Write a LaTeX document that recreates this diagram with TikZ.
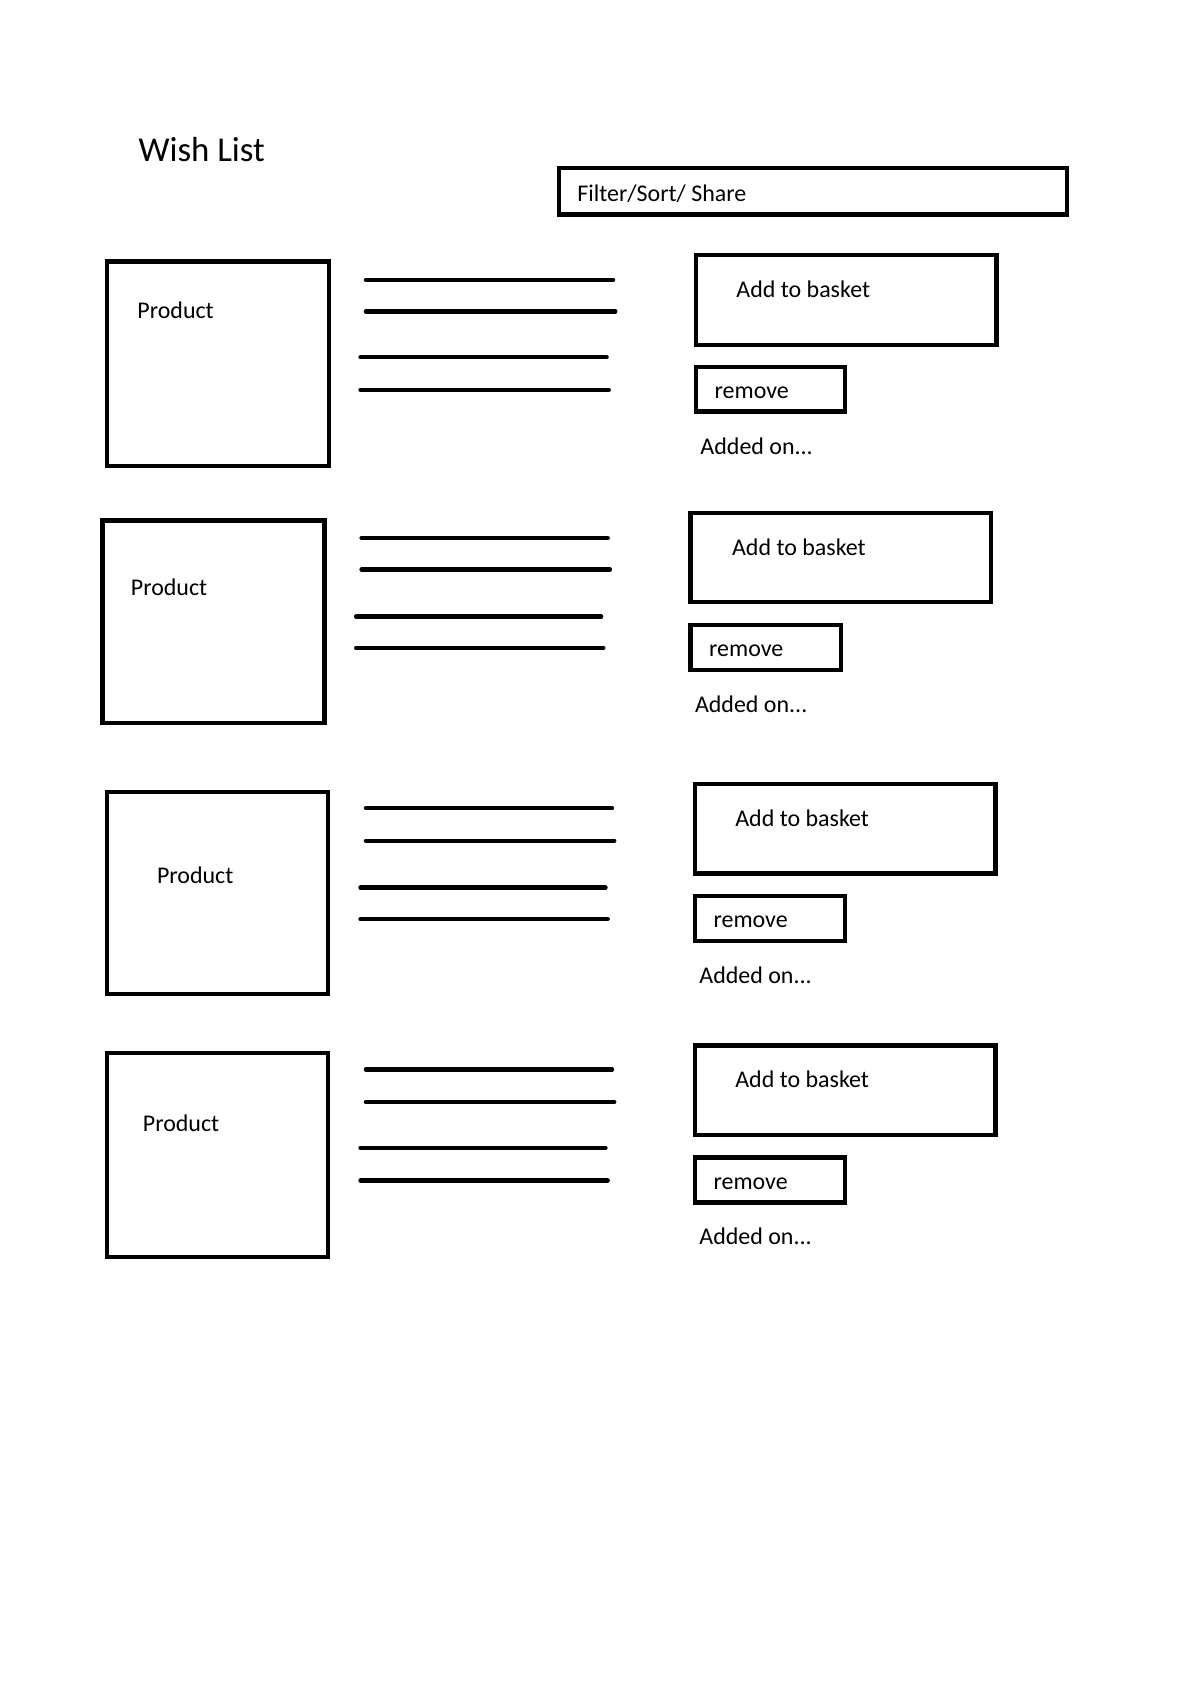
\documentclass[tikz,border=0pt]{standalone}
\usepackage{fontspec}
\setmainfont{Carlito}
\begin{document}
\begin{tikzpicture}[x=1pt,y=-1pt,
  box/.style={draw=black,line width=4pt,inner sep=0pt,outer sep=0pt},
  bar/.style={draw=black,line width=4pt,line cap=round},
  lbl/.style={anchor=base west,inner sep=0pt,font=\fontsize{22}{26}\selectfont},
  ttl/.style={anchor=base west,inner sep=0pt,font=\fontsize{32}{38}\selectfont}]
\useasboundingbox[fill=white] (0,0) rectangle (1100,1561);
\node[ttl] (title) at (127,148) {Wish List};
\node[box,minimum width=467pt,minimum height=43pt] (filter) at (746.5,175.5) {};
\node[lbl] (filtert) at (530,185) {Filter/Sort/ Share};
% row 1
\node[box,minimum width=204pt,minimum height=188pt] (p1) at (200,334) {};
\node[lbl] (p1t) at (126,292) {Product};
\draw[bar] (336,257) -- (563,257);
\draw[bar] (336,286) -- (565,286);
\draw[bar] (331,328) -- (557,328);
\draw[bar] (331,358) -- (559,358);
\node[box,minimum width=276pt,minimum height=83pt] (a1) at (777,275.5) {};
\node[lbl] (a1t) at (676,273) {Add to basket};
\node[box,minimum width=137pt,minimum height=41pt] (r1) at (707.5,357.5) {};
\node[lbl] (r1t) at (656,366) {remove};
\node[lbl] (d1) at (643,417) {Added on...};
% row 2
\node[box,minimum width=204pt,minimum height=186pt] (p2) at (196,571) {};
\node[lbl] (p2t) at (120,547) {Product};
\draw[bar] (332,494) -- (558,494);
\draw[bar] (332,523) -- (560,523);
\draw[bar] (327,566) -- (552,566);
\draw[bar] (327,595) -- (554,595);
\node[box,minimum width=276pt,minimum height=82pt] (a2) at (772,512) {};
\node[lbl] (a2t) at (672,510) {Add to basket};
\node[box,minimum width=138pt,minimum height=41pt] (r2) at (703,594.5) {};
\node[lbl] (r2t) at (651,603) {remove};
\node[lbl] (d2) at (638,654) {Added on...};
% row 3
\node[box,minimum width=203pt,minimum height=186pt] (p3) at (199.5,820) {};
\node[lbl] (p3t) at (144,811) {Product};
\draw[bar] (336,742) -- (562,742);
\draw[bar] (336,772) -- (564,772);
\draw[bar] (331,815) -- (556,815);
\draw[bar] (331,844) -- (558,844);
\node[box,minimum width=276pt,minimum height=82pt] (a3) at (776,761) {};
\node[lbl] (a3t) at (675,759) {Add to basket};
\node[box,minimum width=138pt,minimum height=41pt] (r3) at (707,843.5) {};
\node[lbl] (r3t) at (655,852) {remove};
\node[lbl] (d3) at (642,903) {Added on...};
% row 4
\node[box,minimum width=203pt,minimum height=187pt] (p4) at (199.5,1060.5) {};
\node[lbl] (p4t) at (131,1039) {Product};
\draw[bar] (336,982) -- (562,982);
\draw[bar] (336,1012) -- (564,1012);
\draw[bar] (331,1054) -- (556,1054);
\draw[bar] (331,1084) -- (558,1084);
\node[box,minimum width=276pt,minimum height=82pt] (a4) at (776,1001) {};
\node[lbl] (a4t) at (675,999) {Add to basket};
\node[box,minimum width=138pt,minimum height=41pt] (r4) at (707,1083.5) {};
\node[lbl] (r4t) at (655,1092) {remove};
\node[lbl] (d4) at (642,1143) {Added on...};
\end{tikzpicture}
\end{document}
